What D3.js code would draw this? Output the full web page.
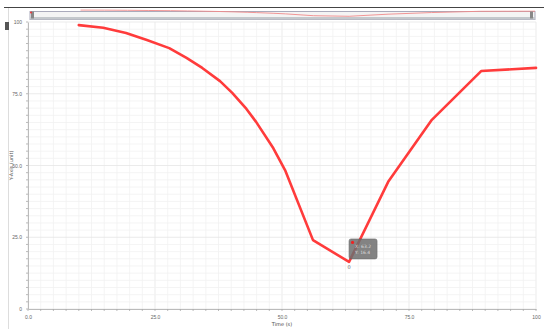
<!DOCTYPE html>
<html><head><meta charset="utf-8">
<script src="https://cdn.jsdelivr.net/npm/d3@7"></script>
<style>body{margin:0;background:#fff;}svg{display:block;font-family:"DejaVu Sans",sans-serif;}</style>
</head><body><svg id="c" width="544" height="329"></svg>
<script>
const xs = [10, 14.8, 19.3, 23.4, 27.8, 31.2, 34.3, 37.8, 40.2, 43.0, 44.9, 48.3, 50.6, 56.1, 63.2, 70.9, 79.5, 89.2, 100];
const ys = [98.9, 98.0, 96.2, 93.7, 90.9, 87.5, 84.0, 79.4, 75.3, 69.7, 65.2, 56.0, 48.4, 24.0, 16.4, 44.3, 65.9, 82.9, 84.0];
const xTicks = [0, 25, 50, 75, 100];
const xTickLabels = ["0.0", "25.0", "50.0", "75.0", "100"];
const yTicks = [0, 25, 50, 75, 100];
const yTickLabels = ["0", "25.0", "50.0", "75.0", "100"];
const xTitle = "Time (s)";
const yTitle = "Y-Axis (unit)";
const tipLines = ["X: 63.2", "Y: 16.4"];

const svg = d3.select("#c");
const L = 28, R = 536, T = 22, B = 309;
const x = d3.scaleLinear().domain([0, 100]).range([L, R]);
const y = d3.scaleLinear().domain([0, 100]).range([B, T]);

svg.append("line").attr("x1", 4).attr("x2", 544).attr("y1", 7.5).attr("y2", 7.5).attr("stroke", "#444").attr("stroke-width", 1.2);
svg.append("line").attr("x1", 8.5).attr("x2", 8.5).attr("y1", 8).attr("y2", 329).attr("stroke", "#ddd");
svg.append("rect").attr("x", 5).attr("y", 22).attr("width", 4).attr("height", 8).attr("fill", "#555");

const minor = d3.range(0, 100.01, 2.5);
svg.append("g").selectAll("line").data(minor).join("line")
  .attr("x1", d => x(d)).attr("x2", d => x(d)).attr("y1", T).attr("y2", B)
  .attr("stroke", d => d % 25 === 0 ? "#e6e6e6" : "#f1f1f1").attr("stroke-width", 0.8);
svg.append("g").selectAll("line").data(minor).join("line")
  .attr("y1", d => y(d)).attr("y2", d => y(d)).attr("x1", L).attr("x2", R)
  .attr("stroke", d => d % 25 === 0 ? "#e6e6e6" : "#f1f1f1").attr("stroke-width", 0.8);

const xAxis = d3.axisBottom(x).tickValues(xTicks).tickFormat((d, i) => xTickLabels[i]).tickSize(0).tickPadding(6);
const gx = svg.append("g").attr("transform", `translate(0,${B})`).call(xAxis);
gx.select(".domain").attr("stroke", "#bbb");
gx.selectAll("text").attr("font-size", 5).attr("fill", "#666");
svg.append("g").selectAll("line").data(minor).join("line")
  .attr("x1", d => x(d)).attr("x2", d => x(d)).attr("y1", B).attr("y2", B + 2).attr("stroke", "#aaa").attr("stroke-width", 0.8);

const yAxis = d3.axisLeft(y).tickValues(yTicks).tickFormat((d, i) => yTickLabels[i]).tickSize(0).tickPadding(6);
const gy = svg.append("g").attr("transform", `translate(${L},0)`).call(yAxis);
gy.select(".domain").attr("stroke", "#bbb");
gy.selectAll("text").attr("font-size", 5).attr("fill", "#666");
svg.append("g").selectAll("line").data(minor).join("line")
  .attr("y1", d => y(d)).attr("y2", d => y(d)).attr("x1", L - 2).attr("x2", L).attr("stroke", "#aaa").attr("stroke-width", 0.8);

svg.append("text").attr("x", (L + R) / 2).attr("y", 326).attr("text-anchor", "middle").attr("font-size", 5).attr("fill", "#444").text(xTitle);
svg.append("text").attr("transform", `translate(13,${(T + B) / 2}) rotate(-90)`).attr("text-anchor", "middle").attr("font-size", 5).attr("fill", "#555").text(yTitle);

const sx = d3.scaleLinear().domain([0, 100]).range([30, 535]);
const sy = d3.scaleLinear().domain([0, 100]).range([17.5, 10]);
svg.append("rect").attr("x", 30).attr("y", 11.5).attr("width", 505).attr("height", 8).attr("fill", "#f4f4f4").attr("stroke", "#aab").attr("stroke-width", 1);
svg.append("rect").attr("x", 30).attr("y", 17).attr("width", 505).attr("height", 2.5).attr("fill", "#c4c8cc");
svg.append("path").datum(xs.map((d, i) => [d, ys[i]]))
  .attr("d", d3.line().x(d => sx(d[0])).y(d => sy(d[1])))
  .attr("fill", "none").attr("stroke", "#f08a8a").attr("stroke-width", 0.9);
svg.append("rect").attr("x", 31).attr("y", 11.5).attr("width", 3).attr("height", 7).attr("fill", "#888");
svg.append("rect").attr("x", 530).attr("y", 11.5).attr("width", 3).attr("height", 7).attr("fill", "#888");
svg.append("circle").attr("cx", 31).attr("cy", 12.5).attr("r", 1).attr("fill", "#e33");

svg.append("path").datum(xs.map((d, i) => [d, ys[i]]))
  .attr("d", d3.line().x(d => x(d[0])).y(d => y(d[1])))
  .attr("fill", "none").attr("stroke", "#ff3b3b").attr("stroke-width", 2.6).attr("stroke-linejoin", "round").attr("stroke-linecap", "round");

const mi = ys.indexOf(d3.min(ys));
const px = x(xs[mi]), py = y(ys[mi]);
const tg = svg.append("g").attr("transform", `translate(${px},${py - 23})`);
tg.append("rect").attr("x", 0).attr("y", 0).attr("width", 28).attr("height", 20).attr("rx", 2).attr("fill", "#6e6e6e").attr("stroke", "#555").attr("stroke-width", 0.6).attr("opacity", 0.85);
tg.append("circle").attr("cx", 3.5).attr("cy", 3.5).attr("r", 1.6).attr("fill", "#e22");
tg.selectAll("text").data(tipLines).join("text").attr("x", 6).attr("y", (d, i) => 9 + i * 6).attr("font-size", 4.5).attr("fill", "#ddd").text(d => d);
svg.append("text").attr("x", px).attr("y", py + 7).attr("text-anchor", "middle").attr("font-size", 5).attr("fill", "#666").text("0");
</script></body></html>
